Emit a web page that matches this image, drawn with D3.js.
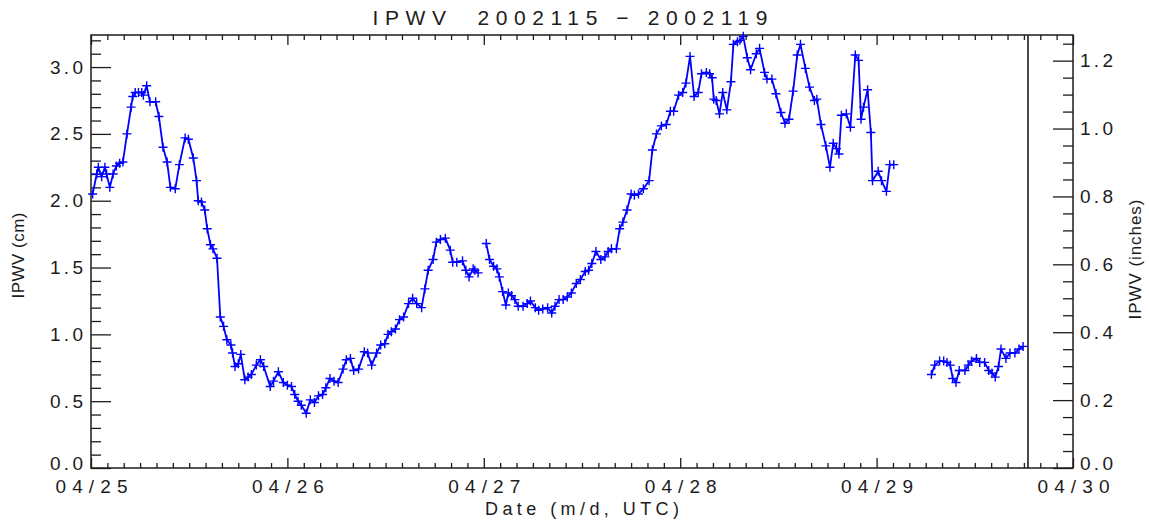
<!DOCTYPE html>
<html>
<head>
<meta charset="utf-8">
<script src="https://cdn.jsdelivr.net/npm/d3@7"></script>
<style>
  html, body { margin: 0; padding: 0; background: #ffffff; }
  svg { display: block; }
</style>
</head>
<body>
<svg id="chart" width="1149" height="523"></svg>
<script>
// ---- Data: integrated precipitable water vapour, 2002 day 115-119 ----
const titleText = "IPWV  2002115 \u2212 2002119";
const xTitle = "Date (m/d, UTC)";
const yTitleLeft = "IPWV (cm)";
const yTitleRight = "IPWV (inches)";

// Observation times, hours after 2002-04-25 00:00 UTC (null = data gap)
const obsHours = [
  0.2, 0.7, 0.9, 1.3, 1.7, 1.9, 2.3, 2.7, 3.1, 3.5, 3.9, 4.4, 4.9, 5.1, 5.4, 5.8,
  6.2, 6.4, 6.8, 7.2, 7.9, 8.3, 8.8, 9.3, 9.7, 10.3, 10.8, 11.5, 11.9, 12.5, 12.9,
  13.1, 13.5, 13.9, 14.2, 14.6, 14.9, 15.4, 15.8, 16.2, 16.6, 17.1, 17.3, 17.6,
  18.0, 18.3, 18.8, 19.2, 19.6, 20.2, 20.7, 21.1, 21.9, 22.3, 22.9, 23.5, 24.0,
  24.5, 24.9, 25.3, 25.7, 26.3, 26.8, 27.3, 27.8, 28.3, 28.7, 29.2, 29.7, 30.2,
  30.8, 31.2, 31.7, 32.1, 32.7, 33.4, 33.8, 34.3, 34.9, 35.4, 35.9, 36.3, 36.7,
  37.2, 37.7, 38.2, 38.8, 39.3, 39.8, 40.4, 40.8, 41.2, 41.8, 42.2, 42.7, 43.3,
  43.9, 44.2, 44.7, 45.4, 45.8, 46.2, 46.7, 46.9, 47.3,
  47.8,
  48.3, 48.7, 49.2, 49.6, 49.9, 50.3, 50.7, 51.0, 51.4, 51.8, 52.2, 52.8, 53.3,
  53.7, 54.3, 54.7, 55.2, 55.8, 56.3, 56.7, 57.2, 57.7, 58.2, 58.7, 59.3, 59.8,
  60.4, 60.8, 61.2, 61.7, 62.3, 62.8, 63.2, 63.6, 64.2, 64.6, 65.0, 65.5, 66.0,
  66.4, 66.9, 67.5, 68.2, 68.6, 69.1, 69.7, 70.3, 70.8, 71.2, 71.8, 72.3, 72.7,
  73.2, 73.7, 74.2, 74.6, 75.2, 75.6, 75.9, 76.1, 76.4, 76.8, 77.2, 77.7, 78.2,
  78.5, 79.0, 79.3, 79.7, 80.2, 80.6, 81.3, 81.7, 82.3, 82.6, 83.2, 83.7, 84.3,
  84.8, 85.3, 85.8, 86.3, 86.7, 87.3, 87.8, 88.4, 88.7, 89.2, 89.8, 90.3, 90.7,
  91.1, 91.4, 91.7, 92.3, 92.8, 93.4, 93.8, 94.1, 94.4, 94.9, 95.3, 95.5, 96.2,
  96.6, 97.2, 97.6, 98.1,
  100.0,
  102.7, 103.1, 103.7, 104.2, 104.6, 105.0, 105.3, 105.7, 106.1, 106.8, 107.2,
  107.6, 108.2, 108.6, 109.2, 109.7, 110.1, 110.5, 110.9, 111.2, 111.8, 112.3,
  112.9, 113.4, 113.9
];

// IPWV in cm at each observation time
const ipwvCm = [
  2.05, 2.20, 2.25, 2.18, 2.25, 2.20, 2.10, 2.20, 2.26, 2.28, 2.29, 2.50, 2.70, 2.78, 2.81, 2.81,
  2.81, 2.79, 2.86, 2.74, 2.74, 2.63, 2.40, 2.29, 2.10, 2.09, 2.27, 2.47, 2.46, 2.32, 2.15,
  2.00, 1.99, 1.93, 1.79, 1.67, 1.64, 1.57, 1.13, 1.06, 0.96, 0.92, 0.86, 0.76,
  0.78, 0.85, 0.66, 0.68, 0.70, 0.77, 0.81, 0.76, 0.61, 0.65, 0.72, 0.64, 0.62,
  0.61, 0.55, 0.50, 0.47, 0.41, 0.51, 0.49, 0.54, 0.55, 0.60, 0.67, 0.65, 0.64,
  0.74, 0.81, 0.82, 0.73, 0.74, 0.87, 0.86, 0.77, 0.86, 0.92, 0.93, 1.00, 1.02,
  1.04, 1.11, 1.13, 1.23, 1.27, 1.23, 1.20, 1.34, 1.48, 1.56, 1.69, 1.71, 1.72,
  1.63, 1.54, 1.54, 1.55, 1.48, 1.43, 1.49, 1.48, 1.46,
  null,
  1.68, 1.56, 1.51, 1.49, 1.43, 1.32, 1.22, 1.31, 1.29, 1.26, 1.21, 1.21, 1.23,
  1.25, 1.20, 1.18, 1.19, 1.20, 1.16, 1.21, 1.26, 1.26, 1.28, 1.31, 1.38, 1.41,
  1.47, 1.48, 1.53, 1.62, 1.56, 1.58, 1.62, 1.64, 1.64, 1.79, 1.84, 1.93, 2.05,
  2.04, 2.05, 2.09, 2.15, 2.38, 2.50, 2.56, 2.57, 2.67, 2.67, 2.79, 2.81, 2.88,
  3.08, 2.78, 2.81, 2.95, 2.96, 2.95, 2.92, 2.76, 2.75, 2.65, 2.81, 2.68, 2.89,
  3.17, 3.19, 3.20, 3.23, 3.07, 2.98, 3.10, 3.14, 2.96, 2.91, 2.91, 2.80, 2.66,
  2.58, 2.61, 2.82, 3.09, 3.17, 2.99, 2.85, 2.75, 2.76, 2.57, 2.41, 2.25, 2.43,
  2.39, 2.35, 2.64, 2.65, 2.55, 3.09, 3.05, 2.61, 2.70, 2.83, 2.51, 2.15, 2.22,
  2.15, 2.07, 2.27, 2.27,
  null,
  0.70, 0.77, 0.80, 0.80, 0.79, 0.77, 0.67, 0.64, 0.73, 0.73, 0.77,
  0.80, 0.82, 0.79, 0.79, 0.73, 0.71, 0.68, 0.76, 0.89, 0.82, 0.86,
  0.86, 0.89, 0.91
];

// Time of the vertical reference line, hours after 2002-04-25 00:00 UTC
const markerHour = 114.5;

// Axis ranges and tick values
const startMs = Date.UTC(2002, 3, 25);
const endMs = Date.UTC(2002, 3, 30);
const yMaxCm = 3.24;
const cmPerInch = 2.54;
const yTicksCm = [0.0, 0.5, 1.0, 1.5, 2.0, 2.5, 3.0];
const yTicksInch = [0.0, 0.2, 0.4, 0.6, 0.8, 1.0, 1.2];

// ---- Drawing ----
const svg = d3.select("#chart");
const plot = { left: 91, right: 1073, top: 35, bottom: 468 };
const ink = "#1c1c1c";
const blue = "#0000ff";
const fontFam = "'Liberation Sans', 'DejaVu Sans', Arial, sans-serif";

svg.append("rect").attr("width", 1149).attr("height", 523).attr("fill", "#ffffff");

const toDate = h => new Date(startMs + h * 3600e3);
const x = d3.scaleUtc().domain([new Date(startMs), new Date(endMs)]).range([plot.left, plot.right]);
const y = d3.scaleLinear().domain([0, yMaxCm]).range([plot.bottom, plot.top]);
const yIn = d3.scaleLinear().domain([0, yMaxCm / cmPerInch]).range([plot.bottom, plot.top]);

const dayTicks = d3.utcDay.range(new Date(startMs), new Date(endMs + 1));
const hourTicks = d3.utcHour.every(2).range(new Date(startMs), new Date(endMs))
  .filter(d => d.getUTCHours() !== 0);
const yMinorCm = d3.range(0, yMaxCm, 0.1).map(v => +v.toFixed(2)).filter(v => Math.abs(v * 2 - Math.round(v * 2)) > 1e-6);
const yMinorIn = d3.range(0, yMaxCm / cmPerInch, 0.05).map(v => +v.toFixed(3)).filter(v => Math.abs(v * 5 - Math.round(v * 5)) > 1e-6);

function styleAxis(g, labelLen) {
  g.select(".domain").remove();
  g.selectAll(".tick line").attr("stroke", ink).attr("stroke-width", 1.3);
  g.selectAll(".tick text")
    .attr("fill", ink)
    .attr("font-family", fontFam)
    .attr("font-size", 19);
  if (labelLen) g.selectAll(".tick text").attr("textLength", labelLen).attr("lengthAdjust", "spacing");
}
// the zero label sits a little above its tick
const liftZero = g => g.selectAll(".tick text").filter(d => d === 0).attr("dy", "0.1em");

// bottom axis (labels) + minor ticks
svg.append("g").attr("transform", `translate(0,${plot.bottom})`)
  .call(d3.axisBottom(x).tickValues(dayTicks).tickSize(-10).tickPadding(12).tickFormat(d3.utcFormat("%m/%d")))
  .call(g => styleAxis(g, 72));
svg.append("g").attr("transform", `translate(0,${plot.bottom})`)
  .call(d3.axisBottom(x).tickValues(hourTicks).tickSize(-5).tickFormat(""))
  .call(g => styleAxis(g));

// top axis (no labels)
svg.append("g").attr("transform", `translate(0,${plot.top})`)
  .call(d3.axisTop(x).tickValues(dayTicks).tickSize(-10).tickFormat(""))
  .call(g => styleAxis(g));
svg.append("g").attr("transform", `translate(0,${plot.top})`)
  .call(d3.axisTop(x).tickValues(hourTicks).tickSize(-5).tickFormat(""))
  .call(g => styleAxis(g));

// left axis in cm
svg.append("g").attr("transform", `translate(${plot.left},0)`)
  .call(d3.axisLeft(y).tickValues(yTicksCm).tickSize(-20).tickPadding(8).tickFormat(d3.format(".1f")))
  .call(g => styleAxis(g, 33))
  .call(liftZero);
svg.append("g").attr("transform", `translate(${plot.left},0)`)
  .call(d3.axisLeft(y).tickValues(yMinorCm).tickSize(-10).tickFormat(""))
  .call(g => styleAxis(g));

// right axis in inches
svg.append("g").attr("transform", `translate(${plot.right},0)`)
  .call(d3.axisRight(yIn).tickValues(yTicksInch).tickSize(-20).tickPadding(7).tickFormat(d3.format(".1f")))
  .call(g => styleAxis(g, 33))
  .call(liftZero);
svg.append("g").attr("transform", `translate(${plot.right},0)`)
  .call(d3.axisRight(yIn).tickValues(yMinorIn).tickSize(-10).tickFormat(""))
  .call(g => styleAxis(g));

// plot frame
svg.append("rect")
  .attr("x", plot.left).attr("y", plot.top)
  .attr("width", plot.right - plot.left).attr("height", plot.bottom - plot.top)
  .attr("fill", "none").attr("stroke", ink).attr("stroke-width", 1.5);

// vertical reference line
svg.append("line")
  .attr("x1", x(toDate(markerHour))).attr("x2", x(toDate(markerHour)))
  .attr("y1", plot.top).attr("y2", plot.bottom)
  .attr("stroke", ink).attr("stroke-width", 1.6);

// series
const pts = obsHours.map((h, i) => ({ t: toDate(h), v: ipwvCm[i] }));
const line = d3.line().defined(d => d.v != null).x(d => x(d.t)).y(d => y(d.v));

const series = svg.append("g");
series.append("path").datum(pts)
  .attr("d", line).attr("fill", "none")
  .attr("stroke", blue).attr("stroke-width", 1.8).attr("stroke-linejoin", "round");

const half = 4.5;
series.selectAll("path.mark").data(pts.filter(d => d.v != null)).join("path")
  .attr("class", "mark")
  .attr("transform", d => `translate(${x(d.t)},${y(d.v)})`)
  .attr("d", `M${-half},0H${half}M0,${-half}V${half}`)
  .attr("stroke", blue).attr("stroke-width", 1.4).attr("fill", "none");

// titles
svg.append("text")
  .attr("x", 570).attr("y", 25)
  .attr("text-anchor", "middle")
  .attr("font-family", fontFam).attr("font-size", 21).attr("fill", ink)
  .style("white-space", "pre")
  .attr("textLength", 395).attr("lengthAdjust", "spacing")
  .text(titleText);

svg.append("text")
  .attr("x", (plot.left + plot.right) / 2).attr("y", 515)
  .attr("text-anchor", "middle")
  .attr("font-family", fontFam).attr("font-size", 18).attr("fill", ink)
  .attr("textLength", 194).attr("lengthAdjust", "spacing")
  .text(xTitle);

svg.append("text")
  .attr("transform", `translate(24,${(plot.top + plot.bottom) / 2 + 4}) rotate(-90)`)
  .attr("text-anchor", "middle")
  .attr("font-family", fontFam).attr("font-size", 17).attr("fill", ink)
  .attr("textLength", 86).attr("lengthAdjust", "spacing")
  .text(yTitleLeft);

svg.append("text")
  .attr("transform", `translate(1141,${(plot.top + plot.bottom) / 2 + 8}) rotate(-90)`)
  .attr("text-anchor", "middle")
  .attr("font-family", fontFam).attr("font-size", 17).attr("fill", ink)
  .attr("textLength", 120).attr("lengthAdjust", "spacing")
  .text(yTitleRight);
</script>
</body>
</html>
